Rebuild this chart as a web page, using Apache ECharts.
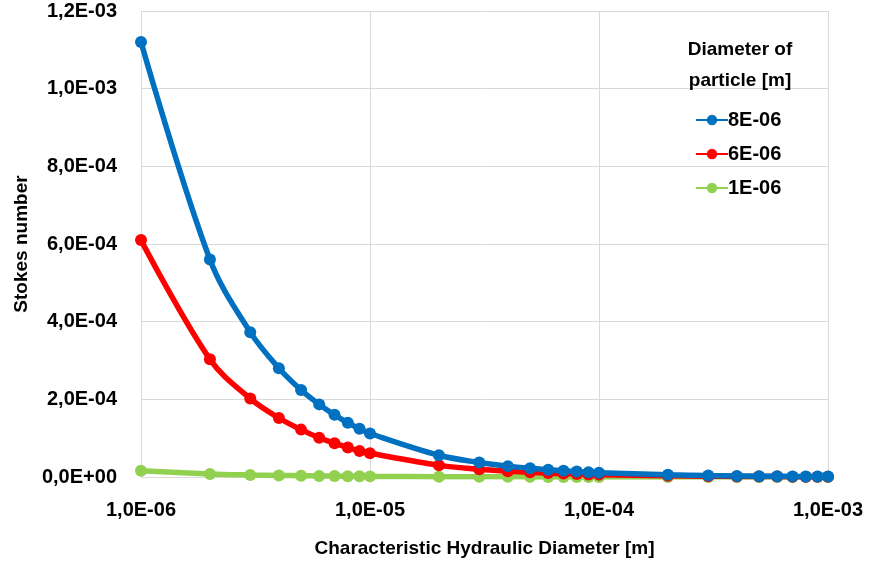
<!DOCTYPE html>
<html>
<head>
<meta charset="utf-8">
<script src="https://cdn.jsdelivr.net/npm/echarts@6/dist/echarts.min.js"></script>
<style>
  html, body { margin: 0; padding: 0; background: #fff; }
  #chart { width: 870px; height: 564px; }
</style>
</head>
<body>
<div id="chart"></div>
<script>
// characteristic hydraulic diameter [m]
var diameters = [
  1e-6, 2e-6, 3e-6, 4e-6, 5e-6, 6e-6, 7e-6, 8e-6, 9e-6,
  1e-5, 2e-5, 3e-5, 4e-5, 5e-5, 6e-5, 7e-5, 8e-5, 9e-5,
  1e-4, 2e-4, 3e-4, 4e-4, 5e-4, 6e-4, 7e-4, 8e-4, 9e-4,
  1e-3
];

// stokes number per particle diameter
var stokes8 = [
  1.12e-3, 5.6e-4, 3.73e-4, 2.8e-4, 2.24e-4, 1.87e-4, 1.6e-4, 1.4e-4, 1.24e-4,
  1.12e-4, 5.6e-5, 3.73e-5, 2.8e-5, 2.24e-5, 1.87e-5, 1.6e-5, 1.4e-5, 1.24e-5,
  1.12e-5, 5.6e-6, 3.7e-6, 2.8e-6, 2.2e-6, 1.9e-6, 1.6e-6, 1.4e-6, 1.2e-6,
  1.1e-6
];
var stokes6 = [
  6.1e-4, 3.03e-4, 2.02e-4, 1.52e-4, 1.22e-4, 1.01e-4, 8.7e-5, 7.6e-5, 6.7e-5,
  6.1e-5, 3.0e-5, 2.0e-5, 1.5e-5, 1.2e-5, 1.0e-5, 8.7e-6, 7.6e-6, 6.7e-6,
  6.1e-6, 3.0e-6, 2.0e-6, 1.5e-6, 1.2e-6, 1.0e-6, 8.7e-7, 7.6e-7, 6.7e-7,
  6.1e-7
];
var stokes1 = [
  1.6e-5, 8.0e-6, 5.3e-6, 4.0e-6, 3.2e-6, 2.7e-6, 2.3e-6, 2.0e-6, 1.8e-6,
  1.6e-6, 8.0e-7, 5.3e-7, 4.0e-7, 3.2e-7, 2.7e-7, 2.3e-7, 2.0e-7, 1.8e-7,
  1.6e-7, 8.0e-8, 5.3e-8, 4.0e-8, 3.2e-8, 2.7e-8, 2.3e-8, 2.0e-8, 1.8e-8,
  1.6e-8
];

var seriesNames = ['8E-06', '6E-06', '1E-06'];
var seriesColors = ['#0070c0', '#ff0000', '#92d050'];

var font = 'Liberation Sans';

// 1.2e-3 -> 1,2E-03
function sciLabel(v) {
  var s = Number(v).toExponential(1);
  var parts = s.split('e');
  var exp = parseInt(parts[1], 10);
  var sign = exp < 0 ? '-' : '+';
  var e = Math.abs(exp);
  return parts[0].replace('.', ',') + 'E' + sign + (e < 10 ? '0' + e : e);
}

function pairs(ys) {
  var out = [];
  for (var i = 0; i < diameters.length; i++) {
    out.push([diameters[i], ys[i]]);
  }
  return out;
}

var chart = echarts.init(document.getElementById('chart'));

var allData = [stokes8, stokes6, stokes1];
var series = [];
for (var k = 0; k < allData.length; k++) {
  series.push({
    name: seriesNames[k],
    type: 'line',
    smooth: 0.35,
    data: pairs(allData[k]),
    symbol: 'circle',
    symbolSize: 12,
    lineStyle: { width: 5.5, color: seriesColors[k] },
    itemStyle: { color: seriesColors[k] },
    z: 10 - k
  });
}

var option = {
  animation: false,
  backgroundColor: '#fff',
  title: {
    text: 'Diameter of\nparticle [m]',
    left: 735,
    top: 29,
    textAlign: 'center',
    textStyle: {
      fontFamily: font,
      fontWeight: 'bold',
      fontSize: 19,
      lineHeight: 31,
      color: '#000'
    }
  },
  legend: {
    orient: 'vertical',
    left: 690,
    top: 105,
    itemWidth: 32,
    itemHeight: 13,
    itemGap: 14,
    data: seriesNames,
    textStyle: {
      fontFamily: font,
      fontWeight: 'bold',
      fontSize: 20,
      color: '#000',
      padding: [0, 0, 0, -5]
    }
  },
  grid: {
    left: 141,
    right: 42,
    top: 11,
    bottom: 87,
    outerBoundsMode: 'none'
  },
  xAxis: {
    type: 'log',
    logBase: 10,
    min: 1e-6,
    max: 1e-3,
    name: 'Characteristic Hydraulic Diameter [m]',
    nameLocation: 'middle',
    nameGap: 62,
    nameTextStyle: {
      fontFamily: font,
      fontWeight: 'bold',
      fontSize: 19,
      color: '#000'
    },
    axisLine: { show: true, lineStyle: { color: '#d9d9d9', width: 1 } },
    axisTick: { show: false },
    splitLine: { show: true, lineStyle: { color: '#d9d9d9', width: 1 } },
    minorTick: { show: false },
    axisLabel: {
      margin: 23,
      fontFamily: font,
      fontWeight: 'bold',
      fontSize: 20,
      color: '#000',
      formatter: sciLabel
    }
  },
  yAxis: {
    type: 'value',
    min: 0,
    max: 1.2e-3,
    interval: 2e-4,
    name: 'Stokes number',
    nameLocation: 'middle',
    nameGap: 109,
    nameTextStyle: {
      fontFamily: font,
      fontWeight: 'bold',
      fontSize: 19,
      color: '#000'
    },
    axisLine: { show: false },
    axisTick: { show: false },
    splitLine: { show: true, lineStyle: { color: '#d9d9d9', width: 1 } },
    axisLabel: {
      margin: 24,
      fontFamily: font,
      fontWeight: 'bold',
      fontSize: 20,
      color: '#000',
      formatter: sciLabel
    }
  },
  series: series
};

chart.setOption(option);
</script>
</body>
</html>
